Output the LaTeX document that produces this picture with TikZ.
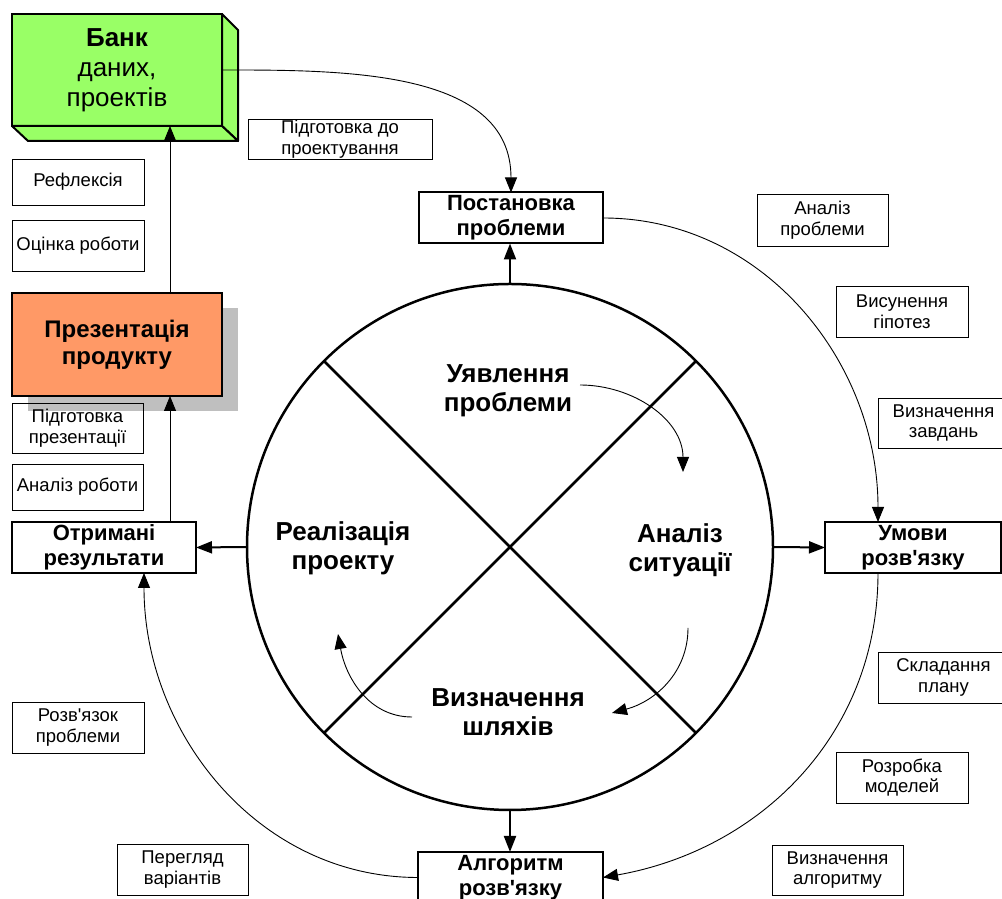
\documentclass[tikz,border=0pt]{standalone}
\usepackage{fontspec}
\setmainfont{Liberation Sans}
\newfontfamily\plainsans{Liberation Sans}
\newcommand\apos{{\plainsans'}}
\usetikzlibrary{arrows.meta,shadows}
\definecolor{bankgreen}{HTML}{99FF66}
\definecolor{presorange}{HTML}{FF9966}

\begin{document}
\begin{tikzpicture}[x=1pt, y=1pt,
  mainbox/.style={rectangle, draw, line width=2pt, minimum width=184pt, minimum height=51pt, inner sep=0pt, outer sep=0pt, align=center, font=\bfseries\fontsize{22}{25}\selectfont},
  note/.style={rectangle, draw, line width=0.8pt, minimum width=131pt, minimum height=50pt, inner sep=0pt, outer sep=0pt, align=center, font=\fontsize{18.5}{20.5}\selectfont},
  phase/.style={align=center, font=\bfseries\fontsize{26}{29}\selectfont},
  flow/.style={line width=2pt, -{Triangle[length=16pt,width=12pt]}},
  link/.style={line width=0.9pt, -{Triangle[length=15pt,width=12pt]}}
]
\clip (0,0) rectangle (1002,899);

% Wheel
\node[circle, draw, line width=2.5pt, minimum size=526pt, inner sep=0pt, outer sep=0pt] (wheel) at (510,352) {};
\draw[line width=2.5pt] (wheel.north west) -- (wheel.south east);
\draw[line width=2.5pt] (wheel.north east) -- (wheel.south west);
\node[phase] (uyav) at (508,508) {Уявлення\\проблеми};
\node[phase] (sit) at (680,349) {Аналіз\\ситуації};
\node[phase] (ways) at (508,187) {Визначення\\шляхів};
\node[phase] (real) at (343,351) {Реалізація\\проекту};

% Turns inside the wheel
\coordinate (t1s) at (580,514);
\coordinate (t1e) at (683,427);
\coordinate (t2s) at (688,271);
\coordinate (t2e) at (612,186);
\coordinate (t3s) at (412,182);
\coordinate (t3e) at (338,265);
\draw[link] (t1s) to[out=0,in=90] (t1e);
\draw[link] (t2s) to[out=-90,in=15] (t2e);
\draw[link] (t3s) to[out=180,in=-80] (t3e);

% Stages
\node[mainbox] (post) at (511,681) {Постановка\\проблеми};
\node[mainbox, minimum width=176pt] (umovy) at (913,351.5) {Умови\\розв\apos язку};
\node[mainbox] (otrym) at (104,351.5) {Отримані\\результати};
\node[mainbox, minimum width=185pt] (algor) at (510.5,21.5) {Алгоритм\\розв\apos язку};

% Bank
\node[rectangle, draw, line width=2pt, fill=bankgreen, minimum width=210pt, minimum height=112pt, outer sep=0pt, align=center, font=\fontsize{26}{30}\selectfont] (bank) at (117,829) {\textbf{Банк}\\даних,\\проектів};
\draw[line width=2pt, fill=bankgreen, line join=round] (bank.north east) -- ++(16,-16) -- ([shift={(16,-15)}]bank.south east) -- (bank.south east) -- cycle;
\draw[line width=2pt, fill=bankgreen, line join=round] (bank.south west) -- ++(16,-15) -- ([shift={(16,-15)}]bank.south east) -- (bank.south east) -- cycle;

% Presentation
\node[rectangle, draw, line width=2pt, fill=presorange, minimum width=210pt, minimum height=103pt, outer sep=0pt, align=center, font=\bfseries\fontsize{24}{27}\selectfont, drop shadow={shadow xshift=16pt, shadow yshift=-15pt, fill=black!25, opacity=1}] (pres) at (117,554.5) {Презентація\\продукту};

% Notes
\node[note, minimum width=184pt, minimum height=40pt] (prep) at (340,760) {Підготовка до\\проектування};
\node[note, minimum width=132pt, minimum height=46pt] (refl) at (78,717) {Рефлексія};
\node[note, minimum width=132pt, minimum height=51pt] (eval) at (78,653.5) {Оцінка роботи};
\node[note] (prepres) at (77.5,471) {Підготовка\\презентації};
\node[note, minimum height=46pt] (anal) at (77.5,412) {Аналіз роботи};
\node[note, minimum width=132pt, minimum height=51pt] (solv) at (78,171.5) {Розв\apos язок\\проблеми};
\node[note, minimum height=51pt] (review) at (182.5,29.5) {Перегляд\\варіантів};
\node[note, minimum height=52pt] (probl) at (822.5,679) {Аналіз\\проблеми};
\node[note, minimum width=132pt, minimum height=51pt] (hyp) at (902,587.5) {Висунення\\гіпотез};
\node[note] (tasks) at (943.5,476) {Визначення\\завдань};
\node[note, minimum height=51pt] (plan) at (943.5,221.5) {Складання\\плану};
\node[note, minimum width=132pt, minimum height=51pt] (models) at (902,121.5) {Розробка\\моделей};
\node[note] (algdef) at (837.5,29) {Визначення\\алгоритму};

% Connections
\draw[flow] (wheel.north) -- (wheel.north |- post.south);
\draw[flow] (wheel.east) -- (umovy.west);
\draw[flow] (wheel.west) -- (otrym.east);
\draw[flow] (wheel.south) -- (wheel.south |- algor.north);
\draw[link] ([xshift=53pt]pres.north) -- ([xshift=53pt]bank.south);
\draw[link] ([xshift=53pt]pres.south |- otrym.north) -- ([xshift=53pt]pres.south);
\draw[link] (bank.east) to[out=0,in=90] (post.north);
\draw[link] (post.east) to[out=0,in=90] ([xshift=-35pt]umovy.north);
\draw[link] ([xshift=-35pt]umovy.south) to[out=-90,in=10] (algor.east);
\draw[link] (algor.west) to[out=180,in=-90] ([xshift=40pt]otrym.south);
\end{tikzpicture}
\end{document}
